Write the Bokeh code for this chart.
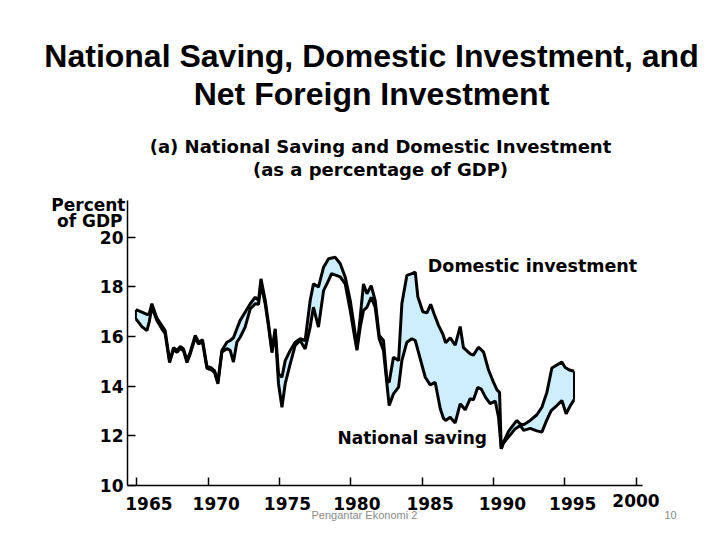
from bokeh.plotting import figure
from bokeh.models import Range1d, FixedTicker, Label
from bokeh.embed import file_html
from bokeh.resources import INLINE

# ---------------- data ----------------
title_lines = ["National Saving, Domestic Investment, and", "Net Foreign Investment"]
subtitle_lines = ["(a) National Saving and Domestic Investment", "(as a percentage of GDP)"]
y_title_lines = ["Percent", "of GDP"]
x_ticks = [1965, 1970, 1975, 1980, 1985, 1990, 1995, 2000]
x_tick_labels = ["1965", "1970", "1975", "1980", "1985", "1990", "1995", "2000"]
y_ticks = [10, 12, 14, 16, 18, 20]

investment_years = [
    1964.93, 1965.35, 1965.70, 1965.86, 1966.05, 1966.40, 1966.75, 1966.98, 1967.29, 1967.57,
    1967.81, 1968.04, 1968.27, 1968.51, 1968.74, 1969.09, 1969.32, 1969.60, 1969.91, 1970.21,
    1970.44, 1970.68, 1970.96, 1971.31, 1971.54, 1971.77, 1972.01, 1972.24, 1972.59, 1972.95,
    1973.30, 1973.53, 1973.70, 1974.00, 1974.23, 1974.47, 1974.70, 1974.93, 1975.17, 1975.40,
    1975.75, 1976.10, 1976.45, 1976.80, 1977.15, 1977.38, 1977.73, 1978.09, 1978.44, 1978.91,
    1979.26, 1979.61, 1979.96, 1980.31, 1980.43, 1980.66, 1980.89, 1981.13, 1981.43, 1981.71,
    1981.99, 1982.29, 1982.53, 1982.69, 1982.99, 1983.35, 1983.58, 1983.93, 1984.28, 1984.52,
    1984.70, 1985.05, 1985.34, 1985.60, 1985.85, 1986.15, 1986.45, 1986.65, 1986.97, 1987.32,
    1987.67, 1987.90, 1988.37, 1988.60, 1988.95, 1989.31, 1989.66, 1990.01, 1990.25, 1990.43,
    1990.55, 1990.71, 1991.06, 1991.41, 1991.65, 1991.88, 1992.12, 1992.58, 1993.05, 1993.40,
    1993.75, 1994.10, 1994.45, 1994.80, 1995.03, 1995.33, 1995.65,
]
investment_values = [
    17.08, 16.98, 16.89, 16.91, 17.32, 16.74, 16.44, 16.24, 15.03, 15.55,
    15.44, 15.60, 15.50, 15.03, 15.37, 16.04, 15.77, 15.87, 14.79, 14.74,
    14.63, 14.16, 15.44, 15.77, 15.84, 15.95, 16.31, 16.65, 16.98, 17.32,
    17.58, 17.45, 18.32, 17.45, 16.51, 15.44, 16.31, 14.50, 14.36, 15.03,
    15.44, 15.77, 15.91, 15.84, 17.45, 18.12, 17.99, 18.79, 19.13, 19.19,
    18.93, 18.39, 17.45, 16.11, 15.50, 16.78, 18.12, 17.72, 18.05, 17.45,
    16.04, 15.84, 14.23, 14.16, 15.17, 15.03, 17.32, 18.46, 18.53, 18.59,
    17.60, 17.00, 16.95, 17.30, 16.90, 16.45, 16.10, 15.75, 15.95, 15.65,
    16.40, 15.55, 15.30, 15.25, 15.57, 15.37, 14.65, 14.15, 13.85, 13.75,
    11.48, 11.75, 12.18, 12.45, 12.62, 12.48, 12.45, 12.62, 12.85, 13.15,
    13.75, 14.73, 14.85, 14.97, 14.75, 14.65, 14.60,
]

saving_years = [
    1964.93, 1965.35, 1965.70, 1965.86, 1966.05, 1966.40, 1966.75, 1966.98, 1967.29, 1967.57,
    1967.81, 1968.04, 1968.27, 1968.51, 1968.74, 1969.09, 1969.32, 1969.60, 1969.91, 1970.21,
    1970.44, 1970.68, 1970.96, 1971.31, 1971.54, 1971.77, 1972.01, 1972.24, 1972.59, 1972.95,
    1973.30, 1973.53, 1973.70, 1974.00, 1974.23, 1974.47, 1974.70, 1974.93, 1975.17, 1975.40,
    1975.75, 1976.10, 1976.45, 1976.80, 1977.15, 1977.38, 1977.73, 1978.09, 1978.44, 1978.65,
    1979.26, 1979.61, 1979.96, 1980.31, 1980.43, 1980.66, 1980.89, 1981.13, 1981.43, 1981.71,
    1981.99, 1982.29, 1982.53, 1982.69, 1982.99, 1983.35, 1983.58, 1983.93, 1984.28, 1984.52,
    1984.87, 1985.22, 1985.57, 1985.92, 1986.27, 1986.50, 1986.65, 1986.97, 1987.32, 1987.67,
    1988.02, 1988.37, 1988.60, 1988.90, 1989.15, 1989.45, 1989.77, 1990.13, 1990.36, 1990.55,
    1990.70, 1990.90, 1991.20, 1991.52, 1991.88, 1992.12, 1992.58, 1993.05, 1993.40, 1993.70,
    1994.05, 1994.45, 1994.80, 1995.10, 1995.38, 1995.65,
]
saving_values = [
    16.71, 16.40, 16.24, 16.58, 17.18, 16.65, 16.31, 16.11, 14.95, 15.47,
    15.36, 15.52, 15.42, 14.95, 15.30, 15.95, 15.70, 15.78, 14.72, 14.66,
    14.56, 14.10, 15.38, 15.51, 15.44, 14.97, 15.77, 15.97, 16.38, 17.12,
    17.32, 17.30, 18.12, 17.30, 16.40, 15.35, 16.20, 14.10, 13.15, 14.10,
    14.90, 15.64, 15.84, 15.50, 16.38, 17.18, 16.38, 17.85, 18.26, 18.53,
    18.40, 18.12, 17.05, 15.84, 15.45, 16.38, 17.05, 17.18, 17.58, 17.18,
    15.91, 15.44, 14.10, 13.22, 13.69, 13.96, 15.03, 15.77, 15.91, 15.84,
    15.10, 14.36, 14.05, 14.15, 13.10, 12.70, 12.62, 12.75, 12.52, 13.29,
    13.05, 13.50, 13.45, 13.95, 13.88, 13.55, 13.30, 13.40, 12.75, 11.48,
    11.70, 11.85, 12.05, 12.28, 12.42, 12.22, 12.30, 12.20, 12.15, 12.58,
    13.02, 13.22, 13.42, 12.89, 13.20, 13.45,
]

series_labels = ["Domestic investment", "National saving"]
footer_text = "Pengantar Ekonomi 2"
page_number = "10"

# ---------------- layout / style ----------------
W, H = 704, 532
FL, FT = 40, 30                 # frame left / top (px); frame reaches right and bottom edges
AXIS_LEFT_PX = 127              # where the y axis is drawn
AXIS_BOTTOM_PX = 485            # where the x axis is drawn
PX_PER_YEAR = 14.26
PX_PER_UNIT = 24.83
X_AXIS_START, X_AXIS_END = 1964.34, 2000.48
Y_AXIS_START, Y_AXIS_END = 10.0, 21.48

x_start = X_AXIS_START - (AXIS_LEFT_PX - FL) / PX_PER_YEAR
x_end = X_AXIS_START + (W - AXIS_LEFT_PX) / PX_PER_YEAR
y_end = Y_AXIS_START + (AXIS_BOTTOM_PX - FT) / PX_PER_UNIT
y_start = Y_AXIS_START - (H - AXIS_BOTTOM_PX) / PX_PER_UNIT

FILL = "#cdeffd"
BOLD_FONT = "DejaVu Sans"


def px_x(px):
    """pixel x -> data x (only for placing annotation texts)"""
    return x_start + (px - FL) / PX_PER_YEAR


def px_y(py):
    """pixel y -> data y (only for placing annotation texts)"""
    return y_end - (py - FT) / PX_PER_UNIT


p = figure(width=W, height=H, output_backend="svg", toolbar_location=None,
           x_range=Range1d(x_start, x_end), y_range=Range1d(y_start, y_end),
           x_axis_location="above",
           min_border_left=FL, min_border_right=0, min_border_top=FT, min_border_bottom=0)
p.outline_line_color = None
p.grid.visible = False
p.background_fill_color = "white"
p.border_fill_color = "white"

for ax in (p.xaxis[0], p.yaxis[0]):
    ax.axis_line_color = "black"
    ax.axis_line_width = 1.5
    ax.major_tick_line_color = "black"
    ax.major_tick_line_width = 1.5
    ax.minor_tick_line_color = None

# x axis: drawn at y = 10, ticks pointing up
p.xaxis.fixed_location = Y_AXIS_START
p.xaxis.bounds = (X_AXIS_START, X_AXIS_END)
p.xaxis.ticker = FixedTicker(ticks=x_ticks)
p.xaxis.major_label_overrides = {t: "" for t in x_ticks}
p.xaxis.major_label_standoff = 0
p.xaxis.major_tick_out = 8
p.xaxis.major_tick_in = 0

# y axis: drawn at the left end of the time axis, ticks pointing right
p.yaxis.fixed_location = X_AXIS_START
p.yaxis.bounds = (Y_AXIS_START, Y_AXIS_END)
p.yaxis.ticker = FixedTicker(ticks=y_ticks)
p.yaxis.major_tick_in = 8
p.yaxis.major_tick_out = 0
p.yaxis.major_label_text_font = BOLD_FONT
p.yaxis.major_label_text_font_style = "bold"
p.yaxis.major_label_text_font_size = "17px"
p.yaxis.major_label_text_color = "black"
p.yaxis.major_label_standoff = 4

# fill between the two series, then the two lines
fill_x = investment_years + saving_years[::-1]
fill_y = investment_values + saving_values[::-1]
p.patch(fill_x, fill_y, fill_color=FILL, line_color=None)
p.line(investment_years, investment_values, line_color="black", line_width=3)
p.line(saving_years, saving_values, line_color="black", line_width=3)
p.segment(x0=[investment_years[0], investment_years[-1]],
          y0=[investment_values[0], investment_values[-1]],
          x1=[saving_years[0], saving_years[-1]],
          y1=[saving_values[0], saving_values[-1]],
          line_color="black", line_width=2)


def add_text(x, y, text, font, size, style="normal", align="left", color="black", x_offset=0):
    # the y given is where the middle of the capitals lands
    p.add_layout(Label(x=x, y=y, text=text, text_font=font, text_font_size=size,
                       text_font_style=style, text_align=align, text_baseline="alphabetic",
                       text_color=color, x_offset=x_offset))


# titles
for line, mid in zip(title_lines, [55, 93]):
    add_text(px_x(371), px_y(mid), line, "Liberation Sans", "32px", "bold", "center")
for line, mid in zip(subtitle_lines, [146, 169]):
    add_text(px_x(380), px_y(mid), line, BOLD_FONT, "18px", "bold", "center")

# y axis title
for line, mid, right in zip(y_title_lines, [204, 220], [125, 122]):
    add_text(px_x(right), px_y(mid), line, BOLD_FONT, "17px", "bold", "right")

# x tick labels (slightly right of their ticks, as in the reference)
x_label_dx = [12, 8, 8, 6, 8, 9, 8, 0]
x_label_mid = [502.5, 502.5, 502.5, 502.5, 502.5, 502.5, 502.5, 500]
for t, lab, dx, mid in zip(x_ticks, x_tick_labels, x_label_dx, x_label_mid):
    add_text(t, px_y(mid), lab, BOLD_FONT, "17px", "bold", "center", x_offset=dx)

# series labels
add_text(px_x(532), px_y(265), series_labels[0], BOLD_FONT, "17.5px", "bold", "center")
add_text(px_x(337), px_y(437.5), series_labels[1], BOLD_FONT, "17px", "bold", "left")

# footer
add_text(px_x(311), px_y(514), footer_text, "Liberation Sans", "11px", "normal", "left", "#8a8a8a")
add_text(px_x(670), px_y(514), page_number, "Liberation Sans", "11px", "normal", "center", "#8a8a8a")

open("out.html", "w").write(file_html(p, INLINE))
